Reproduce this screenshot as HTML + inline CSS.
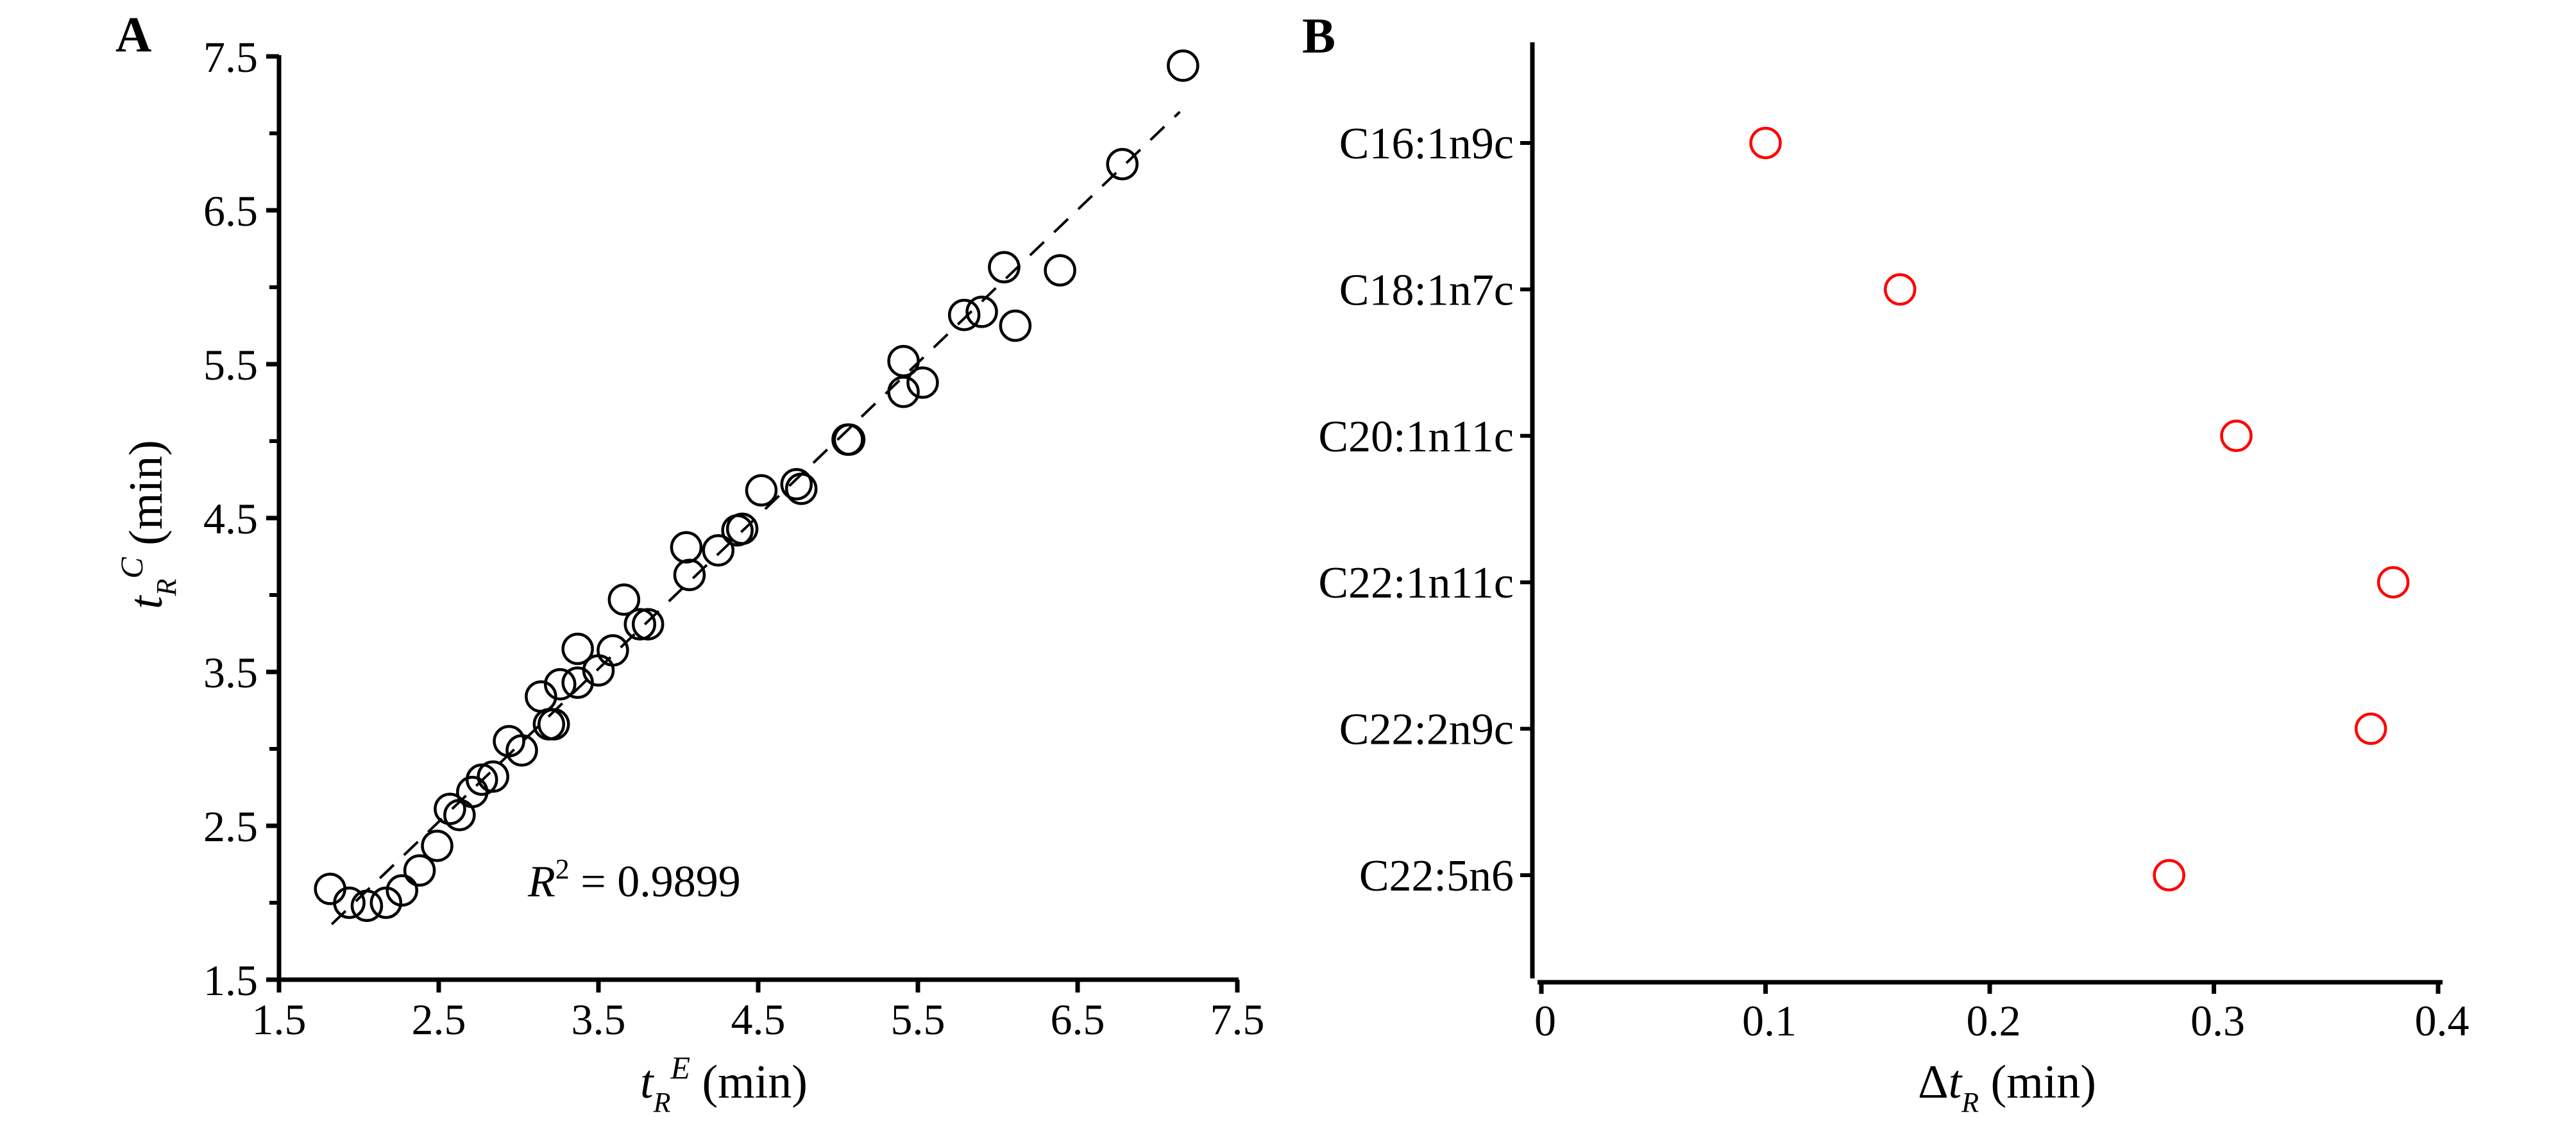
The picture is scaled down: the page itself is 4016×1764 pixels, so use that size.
<!DOCTYPE html>
<html><head><meta charset="utf-8"><style>
html,body{margin:0;padding:0;background:#fff;}
svg{display:block;font-family:"Liberation Serif",serif;}
</style></head><body>
<svg id="fig" width="4016" height="1764" viewBox="0 0 4016 1764" xmlns="http://www.w3.org/2000/svg">
<rect width="4016" height="1764" fill="#fff"/>
<g id="panelA"></g>
<g id="panelB"></g>
</svg>
<script>
// Panel A data
const aExp = [1.82,1.94,2.05,2.17,2.27,2.38,2.49,2.57,2.63,2.71,2.77,2.84,2.94,3.02,3.14,3.19,3.22,3.26,3.37,3.37,3.50,3.59,3.66,3.76,3.81,4.05,4.07,4.25,4.37,4.40,4.52,4.74,4.77,5.06,5.07,5.41,5.41,5.53,5.79,5.90,6.04,6.11,6.39,6.78,7.16];
const aCalc = [2.09,2.00,1.98,2.00,2.08,2.21,2.37,2.61,2.57,2.72,2.80,2.82,3.05,2.99,3.34,3.16,3.16,3.42,3.43,3.65,3.51,3.64,3.97,3.81,3.81,4.31,4.13,4.29,4.42,4.43,4.68,4.72,4.69,5.01,5.01,5.52,5.32,5.38,5.82,5.84,6.13,5.75,6.11,6.80,7.44];
const aTicks = [1.5,2.5,3.5,4.5,5.5,6.5,7.5];
const aTickLabels = ["1.5","2.5","3.5","4.5","5.5","6.5","7.5"];
const fitX = [1.83,7.14];
const fitY = [1.86,7.14];
// Panel B data
const bCats = ["C16:1n9c","C18:1n7c","C20:1n11c","C22:1n11c","C22:2n9c","C22:5n6"];
const bVals = [0.10,0.16,0.31,0.38,0.37,0.28];
const bTicks = [0,0.1,0.2,0.3,0.4];
const bTickLabels = ["0","0.1","0.2","0.3","0.4"];

const NS="http://www.w3.org/2000/svg";
function mk(tag,attrs,parent){const e=document.createElementNS(NS,tag);for(const k in attrs)e.setAttribute(k,attrs[k]);parent.appendChild(e);return e;}

// ---- Panel A
const A=document.getElementById('panelA');
const ax=v=>435+(v-1.5)*(1929-435)/6;
const ay=v=>1528-(v-1.5)*(1528-88)/6;
let t=mk('text',{x:180,y:80,'font-size':78,'font-weight':'bold'},A);t.textContent='A';


let l=mk('line',{x1:435,y1:86,x2:435,y2:1530,stroke:'#000','stroke-width':7},A);


l=mk('line',{x1:415,y1:1528,x2:1931,y2:1528,stroke:'#000','stroke-width':7},A);


aTicks.forEach((v,i)=>{
  let tk=mk('line',{x1:ax(v),y1:1528,x2:ax(v),y2:1548,stroke:'#000','stroke-width':7},A);
  
  
  let tl=mk('text',{x:ax(v),y:1613,'font-size':68,'text-anchor':'middle'},A);tl.textContent=aTickLabels[i];
  
  
  let yt=mk('line',{x1:415,y1:ay(v),x2:435,y2:ay(v),stroke:'#000','stroke-width':7},A);
  
  
  let yl=mk('text',{x:402,y:ay(v)+24,'font-size':68,'text-anchor':'end'},A);yl.textContent=aTickLabels[i];
  
  
  if(i<aTicks.length-1){
    let mt=mk('line',{x1:420,y1:ay(v+0.5),x2:435,y2:ay(v+0.5),stroke:'#000','stroke-width':6},A);
    
    
  }
});
let fit=mk('line',{x1:ax(fitX[0]),y1:ay(fitY[0]),x2:ax(fitX[1]),y2:ay(fitY[1]),stroke:'#000','stroke-width':4,'stroke-dasharray':'30 22'},A);


aExp.forEach((v,i)=>{
  let c=mk('circle',{cx:ax(v),cy:ay(aCalc[i]),r:23,fill:'none',stroke:'#000','stroke-width':4.5},A);
  
  
});
t=mk('text',{x:823,y:1398,'font-size':70},A);
t.innerHTML='<tspan font-style="italic">R</tspan><tspan font-size="44" dy="-28">2</tspan><tspan dy="28"> = 0.9899</tspan>';


t=mk('text',{x:998,y:1712,'font-size':74},A);
t.innerHTML='<tspan font-style="italic">t</tspan><tspan font-style="italic" font-size="44" dy="22">R</tspan><tspan font-style="italic" font-size="50" dy="-52">E</tspan><tspan dy="30"> (min)</tspan>';


t=mk('text',{x:0,y:0,'font-size':74,transform:'translate(252,950) rotate(-90)'},A);
t.innerHTML='<tspan font-style="italic">t</tspan><tspan font-style="italic" font-size="44" dy="22">R</tspan><tspan font-style="italic" font-size="50" dy="-52">C</tspan><tspan dy="30"> (min)</tspan>';



// ---- Panel B
const B=document.getElementById('panelB');
const bx=v=>2403+v*(3801-2403)/0.4;
const by=i=>223+i*228.4;
t=mk('text',{x:2030,y:82,'font-size':78,'font-weight':'bold'},B);t.textContent='B';


l=mk('line',{x1:2389,y1:66,x2:2389,y2:1526,stroke:'#000','stroke-width':7},B);


l=mk('line',{x1:2397,y1:1532,x2:3808,y2:1532,stroke:'#000','stroke-width':7},B);


bTicks.forEach((v,i)=>{
  let tk=mk('line',{x1:bx(v),y1:1532,x2:bx(v),y2:1550,stroke:'#000','stroke-width':7},B);
  
  
  let tl=mk('text',{x:bx(v)+6,y:1615,'font-size':68,'text-anchor':'middle'},B);tl.textContent=bTickLabels[i];
  
  
});
bCats.forEach((c,i)=>{
  let tk=mk('line',{x1:2370,y1:by(i),x2:2389,y2:by(i),stroke:'#000','stroke-width':6},B);
  
  
  let tl=mk('text',{x:2360,y:by(i)+24,'font-size':70,'text-anchor':'end'},B);tl.textContent=c;
  
  
  let p=mk('circle',{cx:bx(bVals[i]),cy:by(i),r:23,fill:'none',stroke:'#ff0000','stroke-width':4.5},B);
  
  
});
t=mk('text',{x:2990,y:1712,'font-size':74},B);
t.innerHTML='<tspan>Δ</tspan><tspan font-style="italic">t</tspan><tspan font-style="italic" font-size="44" dy="22">R</tspan><tspan dy="-22"> (min)</tspan>';


</script>
</body></html>
